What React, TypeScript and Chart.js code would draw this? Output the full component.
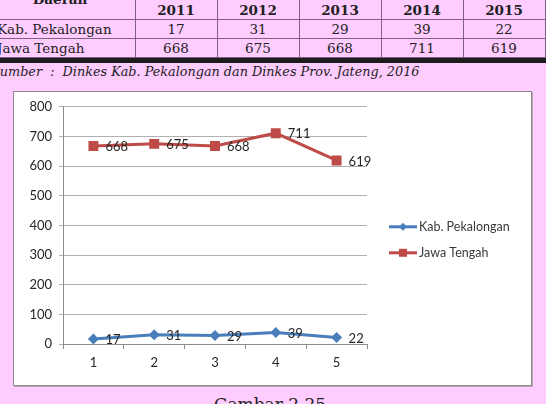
import React, { useEffect, useRef } from "react";
import { Chart, registerables } from "chart.js";

Chart.register(...registerables);

const years = ["2011", "2012", "2013", "2014", "2015"];
const xLabels = ["1", "2", "3", "4", "5"];
const kabPekalongan = [17, 31, 29, 39, 22];
const jawaTengah = [668, 675, 668, 711, 619];
const seriesNames = ["Kab. Pekalongan", "Jawa Tengah"];
const yTicks = { min: 0, max: 800, step: 100 };

const PINK = "#ffccff";
const LINE = "#806080";
const FONT = "Lato, 'Open Sans', sans-serif";

const colX = [135, 217, 299, 381, 463, 545];

const dataLabelPlugin = {
  id: "dataLabels",
  afterDatasetsDraw(chart: any) {
    const ctx = chart.ctx;
    ctx.save();
    ctx.font = `13px ${FONT}`;
    ctx.fillStyle = "#262626";
    ctx.textAlign = "left";
    ctx.textBaseline = "middle";
    chart.data.datasets.forEach((ds: any, i: number) => {
      const meta = chart.getDatasetMeta(i);
      meta.data.forEach((pt: any, j: number) => {
        ctx.fillText(String(ds.data[j]), pt.x + 12, pt.y + 1);
      });
    });
    ctx.restore();
  },
};

const legendPlugin = {
  id: "customLegend",
  afterDraw(chart: any) {
    const ctx = chart.ctx;
    const x0 = chart.chartArea.right + 22;
    const y0 = chart.chartArea.top + 120;
    ctx.save();
    chart.data.datasets.forEach((ds: any, i: number) => {
      const y = y0 + i * 26;
      ctx.strokeStyle = ds.borderColor;
      ctx.lineWidth = 3;
      ctx.beginPath();
      ctx.moveTo(x0, y);
      ctx.lineTo(x0 + 28, y);
      ctx.stroke();
      ctx.fillStyle = ds.backgroundColor;
      ctx.beginPath();
      if (ds.pointStyle === "rect") {
        ctx.rect(x0 + 14 - 4, y - 4, 8, 8);
      } else {
        ctx.moveTo(x0 + 14, y - 4);
        ctx.lineTo(x0 + 18, y);
        ctx.lineTo(x0 + 14, y + 4);
        ctx.lineTo(x0 + 10, y);
        ctx.closePath();
      }
      ctx.fill();
      ctx.fillStyle = "#3a3a3a";
      ctx.font = `12.5px ${FONT}`;
      ctx.textAlign = "left";
      ctx.textBaseline = "middle";
      ctx.fillText(ds.label, x0 + 30, y);
    });
    ctx.restore();
  },
};

function ChartBox() {
  const ref = useRef<HTMLCanvasElement | null>(null);
  useEffect(() => {
    if (!ref.current) return;
    const chart = new Chart(ref.current, {
      type: "line",
      data: {
        labels: xLabels,
        datasets: [
          {
            label: seriesNames[0],
            data: kabPekalongan,
            borderColor: "#4a7ebb",
            backgroundColor: "#4a7ebb",
            borderWidth: 3,
            pointStyle: "rectRot",
            pointRadius: 5.5,
            pointBorderWidth: 0,
            tension: 0,
          },
          {
            label: seriesNames[1],
            data: jawaTengah,
            borderColor: "#be4b48",
            backgroundColor: "#be4b48",
            borderWidth: 3,
            pointStyle: "rect",
            pointRadius: 7,
            pointBorderWidth: 0,
            tension: 0,
          },
        ],
      },
      options: {
        animation: false,
        responsive: false,
        maintainAspectRatio: false,
        layout: { padding: { top: 14, right: 164, left: 0, bottom: 0 } },
        plugins: { legend: { display: false }, tooltip: { enabled: false } },
        scales: {
          x: {
            type: "category",
            offset: true,
            grid: { offset: true, drawOnChartArea: false, tickLength: 5, color: "#8c8c8c" },
            border: { display: true, color: "#8c8c8c" },
            ticks: { font: { family: FONT, size: 13 }, color: "#262626", padding: 6 },
            afterFit: (s: any) => {
              s.height = 41;
            },
          },
          y: {
            min: yTicks.min,
            max: yTicks.max,
            ticks: { stepSize: yTicks.step, font: { family: FONT, size: 13 }, color: "#262626", padding: 7 },
            grid: { color: "#b0b0b0", tickLength: 4 },
            border: { display: true, color: "#8c8c8c" },
            afterFit: (s: any) => {
              s.width = 49;
            },
          },
        },
      },
      plugins: [dataLabelPlugin, legendPlugin],
    } as any);
    return () => chart.destroy();
  }, []);
  return <canvas ref={ref} width={517} height={293} style={{ position: "absolute", left: 0, top: 0, width: 517, height: 293 }} />;
}

export default function App() {
  const serif = "'DejaVu Serif', 'Liberation Serif', serif";
  const cell = (left: number, width: number, top: number, text: string, bold = false, align: any = "center") => (
    <div
      style={{
        position: "absolute",
        left,
        width,
        top,
        height: 19,
        lineHeight: "19px",
        textAlign: align,
        fontFamily: serif,
        fontSize: 13.5,
        fontWeight: bold ? "bold" : "normal",
        color: "#222",
        whiteSpace: "nowrap",
      }}
    >
      {text}
    </div>
  );
  return (
    <div style={{ position: "absolute", left: 0, top: 0, width: 546, height: 404, overflow: "hidden", background: PINK }}>
      {colX.map((x, i) => (
        <div key={"v" + i} style={{ position: "absolute", left: x, top: 0, width: 1, height: 58, background: LINE }} />
      ))}
      <div style={{ position: "absolute", left: 0, top: 19, width: 546, height: 1, background: LINE }} />
      <div style={{ position: "absolute", left: 0, top: 38, width: 546, height: 1, background: LINE }} />
      <div style={{ position: "absolute", left: 0, top: 57, width: 546, height: 1, background: LINE }} />
      <div style={{ position: "absolute", left: 0, top: 58, width: 546, height: 5, background: "#1c1c1c" }} />
      {cell(-15, 150, -10, "Daerah", true)}
      {years.map((y, i) => (
        <React.Fragment key={y}>{cell(colX[i], colX[i + 1] - colX[i], 1, y, true)}</React.Fragment>
      ))}
      {cell(-3, 140, 20, seriesNames[0], false, "left")}
      {cell(-3, 140, 39, seriesNames[1], false, "left")}
      {kabPekalongan.map((v, i) => (
        <React.Fragment key={"k" + i}>{cell(colX[i], colX[i + 1] - colX[i], 20, String(v))}</React.Fragment>
      ))}
      {jawaTengah.map((v, i) => (
        <React.Fragment key={"j" + i}>{cell(colX[i], colX[i + 1] - colX[i], 39, String(v))}</React.Fragment>
      ))}
      <div
        style={{
          position: "absolute",
          left: -9,
          top: 64,
          fontFamily: serif,
          fontStyle: "italic",
          fontSize: 12.8,
          color: "#222",
          whiteSpace: "pre",
        }}
      >
        {"Sumber  :  Dinkes Kab. Pekalongan dan Dinkes Prov. Jateng, 2016"}
      </div>
      <div
        style={{
          position: "absolute",
          left: 13,
          top: 91,
          width: 519,
          height: 295,
          boxSizing: "border-box",
          border: "1px solid #8a8a8a",
          background: "#fff",
          boxShadow: "1px 1px 0 #b8a8b8",
        }}
      >
        <ChartBox />
      </div>
      <div
        style={{
          position: "absolute",
          left: 0,
          width: 540,
          top: 394,
          textAlign: "center",
          fontFamily: serif,
          fontSize: 17,
          color: "#222",
        }}
      >
        Gambar 2.25
      </div>
    </div>
  );
}
